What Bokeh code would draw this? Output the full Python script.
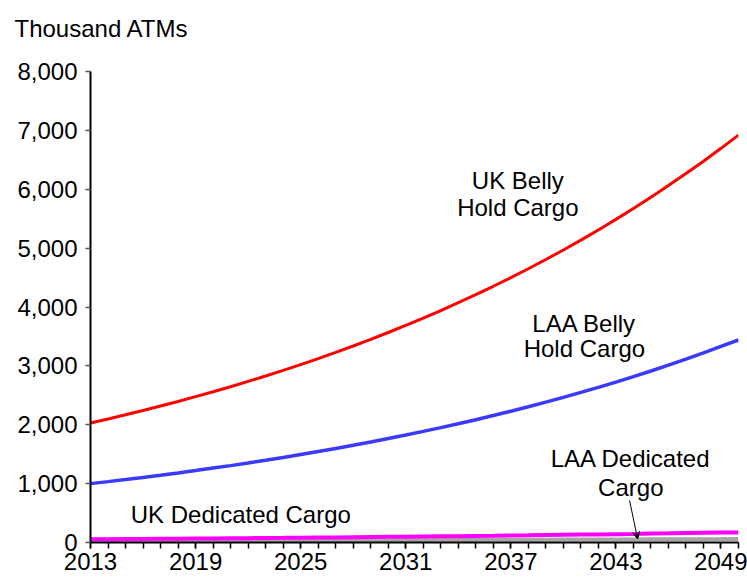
from bokeh.plotting import figure
from bokeh.models import Range1d, FixedTicker, NumeralTickFormatter, Label, Arrow, VeeHead
from bokeh.embed import file_html
from bokeh.resources import INLINE

years = list(range(2013, 2051))
uk_belly = [2030, 2098, 2169, 2242, 2318, 2396, 2477, 2560, 2646, 2736,
            2828, 2923, 3022, 3124, 3229, 3338, 3450, 3567, 3687, 3811,
            3940, 4073, 4210, 4352, 4498, 4650, 4807, 4969, 5136, 5309,
            5488, 5673, 5864, 6062, 6266, 6477, 6695, 6920]
laa_belly = [1000, 1034, 1069, 1105, 1143, 1182, 1222, 1264, 1306, 1351,
             1397, 1444, 1493, 1544, 1597, 1651, 1707, 1765, 1825, 1887,
             1951, 2017, 2086, 2157, 2230, 2306, 2384, 2465, 2549, 2635,
             2725, 2817, 2913, 3012, 3114, 3220, 3330, 3440]
laa_dedicated = [55, 57, 59, 61, 63, 65, 67, 69, 72, 74,
                 77, 79, 82, 85, 87, 90, 93, 96, 99, 102,
                 105, 108, 112, 115, 119, 122, 126, 130, 134, 138,
                 142, 146, 151, 155, 160, 165, 168, 170]
uk_dedicated = [25, 26, 27, 28, 29, 29, 30, 31, 32, 33,
                34, 34, 35, 36, 37, 38, 39, 40, 41, 42,
                42, 43, 44, 45, 46, 47, 48, 49, 50, 51,
                52, 53, 54, 55, 56, 57, 58, 60]
x_ticks = [2013, 2019, 2025, 2031, 2037, 2043, 2049]
y_ticks = [0, 1000, 2000, 3000, 4000, 5000, 6000, 7000, 8000]

FONT = "Liberation Sans"
FS = "24px"

p = figure(width=747, height=581, output_backend="svg", toolbar_location=None,
           x_range=Range1d(2013, 2050), y_range=Range1d(0, 8000),
           min_border_left=90, min_border_right=9, min_border_top=71, min_border_bottom=39)
p.outline_line_color = None
p.xgrid.visible = False
p.ygrid.visible = False
p.background_fill_color = "white"
p.border_fill_color = "white"

p.line(years, uk_dedicated, color="#a6a6a6", line_width=4)
p.line(years, laa_dedicated, color="#ff00ff", line_width=4)
p.line(years, laa_belly, color="#3a3aff", line_width=3.5)
p.line(years, uk_belly, color="#ff0000", line_width=3)

xa = p.xaxis[0]
xa.ticker = FixedTicker(ticks=x_ticks, minor_ticks=years)
xa.axis_line_color = "black"
xa.axis_line_width = 2
xa.major_tick_in = 0
xa.major_tick_out = 6
xa.minor_tick_in = 0
xa.minor_tick_out = 6
xa.major_tick_line_color = "black"
xa.minor_tick_line_color = "black"
xa.major_tick_line_width = 1.5
xa.minor_tick_line_width = 1.5
xa.major_label_text_font = FONT
xa.major_label_text_font_size = FS
xa.major_label_text_color = "black"
xa.major_label_standoff = 4

ya = p.yaxis[0]
ya.ticker = FixedTicker(ticks=y_ticks, minor_ticks=[])
ya.formatter = NumeralTickFormatter(format="0,0")
ya.axis_line_color = "black"
ya.axis_line_width = 2
ya.major_tick_in = 0
ya.major_tick_out = 5
ya.major_tick_line_color = "#555555"
ya.major_tick_line_width = 1.5
ya.minor_tick_line_color = None
ya.major_label_text_font = FONT
ya.major_label_text_font_size = FS
ya.major_label_text_color = "black"
ya.major_label_standoff = 8

# y-axis title, placed in the panel above the frame
p.add_layout(Label(x=-76, y=43, x_units="screen", y_units="screen", text="Thousand ATMs",
                   text_font=FONT, text_font_size=FS, text_color="black",
                   text_align="left", text_baseline="middle"), "above")

def lab(x, y, t, align="center"):
    p.add_layout(Label(x=x, y=y, text=t, text_font=FONT, text_font_size=FS,
                       text_color="black", text_align=align, text_baseline="middle"))

lab(2037.4, 6150, "UK Belly")
lab(2037.4, 5690, "Hold Cargo")
lab(2041.2, 3720, "LAA Belly")
lab(2041.2, 3295, "Hold Cargo")
lab(2015.3, 470, "UK Dedicated Cargo", "left")
lab(2043.85, 1430, "LAA Dedicated")
lab(2043.85, 940, "Cargo")

p.add_layout(Arrow(end=VeeHead(size=7, line_color="black", line_width=1),
                   x_start=2043.78, y_start=713, x_end=2044.24, y_end=60,
                   line_color="black", line_width=1))

open("out.html", "w").write(file_html(p, INLINE))
